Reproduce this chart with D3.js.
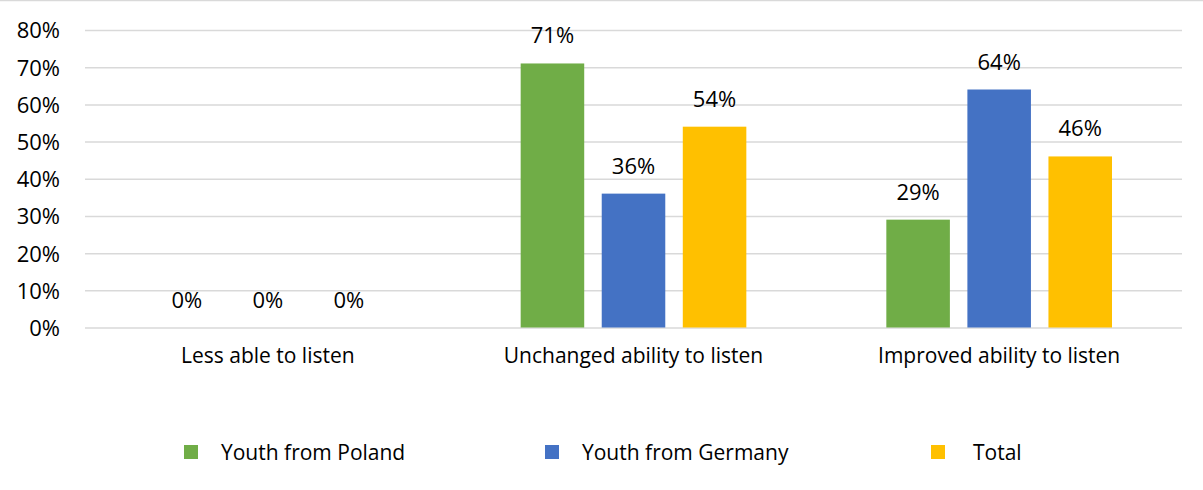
<!DOCTYPE html>
<html>
<head>
<meta charset="utf-8">
<script src="https://cdn.jsdelivr.net/npm/d3@7/dist/d3.min.js"></script>
<style>
  html, body { margin: 0; padding: 0; background: #ffffff; }
  svg text { font-family: "Open Sans", "Noto Sans", sans-serif; fill: #000; }
</style>
</head>
<body>
<svg id="chart" width="1203" height="490"></svg>
<script>
// Categories, series and tick labels
const categories = ["Less able to listen", "Unchanged ability to listen", "Improved ability to listen"];
const seriesNames = ["Youth from Poland", "Youth from Germany", "Total"];
const seriesColors = ["#70AD47", "#4472C4", "#FFC000"];
const poland = [0, 71, 29];
const germany = [0, 36, 64];
const total = [0, 54, 46];
const yTicks = [0, 10, 20, 30, 40, 50, 60, 70, 80];

const seriesValues = [poland, germany, total];

const svg = d3.select("#chart");
const W = 1203, H = 490;
const plot = { left: 85, right: 1182, top: 30, bottom: 327.5 };

// frame line along the top edge
svg.append("line")
  .attr("x1", 0).attr("x2", W).attr("y1", 0.5).attr("y2", 0.5)
  .attr("stroke", "#d9d9d9").attr("stroke-width", 1.5);

const y = d3.scaleLinear().domain([0, 80]).range([plot.bottom, plot.top]);
const x0 = d3.scaleBand().domain(categories).range([plot.left, plot.right]).padding(0);
const groupPad = 70;
const x1 = d3.scaleBand().domain(seriesNames)
  .range([groupPad, x0.bandwidth() - groupPad])
  .paddingInner(0.216).paddingOuter(0);

// gridlines
const yAxis = d3.axisLeft(y).tickValues(yTicks)
  .tickSize(-(plot.right - plot.left))
  .tickFormat(d => d + "%");
const gy = svg.append("g").attr("transform", `translate(${plot.left},0)`).call(yAxis);
gy.select(".domain").remove();
gy.selectAll(".tick line").attr("stroke", "#d9d9d9").attr("stroke-width", 1.5);
gy.selectAll(".tick text")
  .attr("x", -25)
  .attr("font-size", 22)
  .attr("dy", "0.36em");

// bars
const groups = svg.append("g").selectAll("g")
  .data(categories)
  .join("g")
  .attr("transform", d => `translate(${x0(d)},0)`);

groups.selectAll("rect")
  .data((d, i) => seriesNames.map((s, j) => ({ s, v: seriesValues[j][i], c: seriesColors[j] })))
  .join("rect")
  .attr("x", d => x1(d.s))
  .attr("width", x1.bandwidth())
  .attr("y", d => y(d.v))
  .attr("height", d => y(0) - y(d.v))
  .attr("fill", d => d.c);

// value labels
groups.selectAll("text.val")
  .data((d, i) => seriesNames.map((s, j) => ({ s, v: seriesValues[j][i] })))
  .join("text")
  .attr("class", "val")
  .attr("x", d => x1(d.s) + x1.bandwidth() / 2)
  .attr("y", d => y(d.v) - 20)
  .attr("text-anchor", "middle")
  .attr("font-size", 22)
  .text(d => d.v + "%");

// category labels
svg.append("g").selectAll("text")
  .data(categories)
  .join("text")
  .attr("x", d => x0(d) + x0.bandwidth() / 2)
  .attr("y", 363)
  .attr("text-anchor", "middle")
  .attr("font-size", 21)
  .text(d => d);

// legend
const legendX = [184, 545, 931];
const legend = svg.append("g").selectAll("g")
  .data(seriesNames)
  .join("g")
  .attr("transform", (d, i) => `translate(${legendX[i]},445)`);
legend.append("rect")
  .attr("width", 14).attr("height", 14)
  .attr("fill", (d, i) => seriesColors[i]);
legend.append("text")
  .attr("x", (d, i) => i === 2 ? 42 : 37)
  .attr("y", 15)
  .attr("font-size", 21)
  .text(d => d);
</script>
</body>
</html>
